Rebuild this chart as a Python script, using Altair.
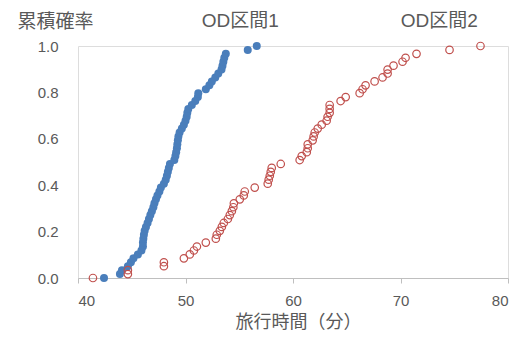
import altair as alt
import pandas as pd

# OD区間1 travel times (minutes), sorted
od1_time = [42.42, 43.90, 44.09, 44.64, 44.92, 45.16, 45.57, 45.90, 46.04, 46.04,
            46.08, 46.13, 46.20, 46.32, 46.47, 46.60, 46.73, 46.87, 47.01, 47.11,
            47.25, 47.39, 47.57, 47.71, 47.99, 48.16, 48.27, 48.36, 48.45, 48.55,
            48.96, 49.06, 49.13, 49.20, 49.24, 49.29, 49.34, 49.45, 49.66, 49.85,
            50.00, 50.11, 50.17, 50.26, 50.59, 50.91, 51.15, 51.19, 51.89, 52.22,
            52.45, 52.77, 53.05, 53.35, 53.44, 53.52, 53.61, 53.75, 55.79, 56.63]

# OD区間2 travel times (minutes), sorted
od2_time = [41.39, 44.64, 44.64, 47.99, 47.99, 49.85, 50.40, 50.78, 51.06, 51.89,
            52.82, 52.91, 53.19, 53.38, 53.56, 53.94, 54.12, 54.31, 54.45, 54.50,
            55.05, 55.42, 55.51, 56.44, 57.65, 57.74, 57.84, 57.93, 58.02, 58.86,
            60.62, 60.81, 61.28, 61.37, 61.37, 61.83, 61.92, 62.02, 62.30, 62.67,
            63.13, 63.22, 63.41, 63.41, 63.41, 64.43, 64.90, 66.20, 66.47, 66.75,
            67.59, 68.33, 68.80, 68.80, 69.35, 70.19, 70.47, 71.49, 74.56, 77.44]

series_labels = ["OD区間1", "OD区間2"]
label_x = [55.1, 73.6]

x_ticks = [40, 50, 60, 70, 80]
y_ticks = [0.0, 0.2, 0.4, 0.6, 0.8, 1.0]

n1 = len(od1_time)
n2 = len(od2_time)
df1 = pd.DataFrame({"t": od1_time, "p": [i / (n1 - 1) for i in range(n1)]})
df2 = pd.DataFrame({"t": od2_time, "p": [i / (n2 - 1) for i in range(n2)]})
dlab = pd.DataFrame({"label": series_labels, "x": label_x})

GRAY = "#595959"
CJK = "Liberation Sans, Noto Sans CJK JP"

xscale = alt.Scale(domain=[40, 80], nice=False, zero=False)
yscale = alt.Scale(domain=[0, 1], nice=False)

xaxis = alt.Axis(values=x_ticks, grid=False, domainColor="#bfbfbf", tickColor="#bfbfbf",
                 tickSize=5, labelFontSize=15, labelColor=GRAY, labelFont="Liberation Sans",
                 labelPadding=10, title="旅行時間（分）", titleFont="Noto Sans CJK JP",
                 titleFontSize=18, titleColor=GRAY, titleFontWeight="normal", titlePadding=5,
                 titleX=220, titleAlign="center")
yaxis = alt.Axis(values=y_ticks, format=".1f", grid=False, domain=False, ticks=False,
                 labelFontSize=15, labelColor=GRAY, labelFont="Liberation Sans", labelPadding=20,
                 title="累積確率", titleFont="Noto Sans CJK JP", titleFontSize=19,
                 titleColor=GRAY, titleFontWeight="normal", titleAngle=0,
                 titleAlign="center", titleBaseline="middle", titleX=-23, titleY=-25)

blue = alt.Chart(df1).mark_circle(size=64, color="#4a7ebb", opacity=1).encode(
    x=alt.X("t:Q", scale=xscale, axis=xaxis),
    y=alt.Y("p:Q", scale=yscale, axis=yaxis),
)
red = alt.Chart(df2).mark_point(shape="circle", size=56, filled=False, color="#c0504d",
                                strokeWidth=1.2, opacity=1).encode(
    x=alt.X("t:Q", scale=xscale),
    y=alt.Y("p:Q", scale=yscale),
)
labels = alt.Chart(dlab).mark_text(fontSize=19, color=GRAY, font=CJK, baseline="middle").encode(
    x=alt.X("x:Q", scale=xscale),
    y=alt.value(-25),
    text="label:N",
)

chart = alt.layer(blue, red, labels).properties(
    width=430, height=232,
    autosize=alt.AutoSizeParams(type="none"),
    padding={"left": 70, "top": 38, "right": 12, "bottom": 58},
).configure_view(stroke=None).configure(background="white")

chart.save("out.html", embed_options={"renderer": "svg", "actions": False})
